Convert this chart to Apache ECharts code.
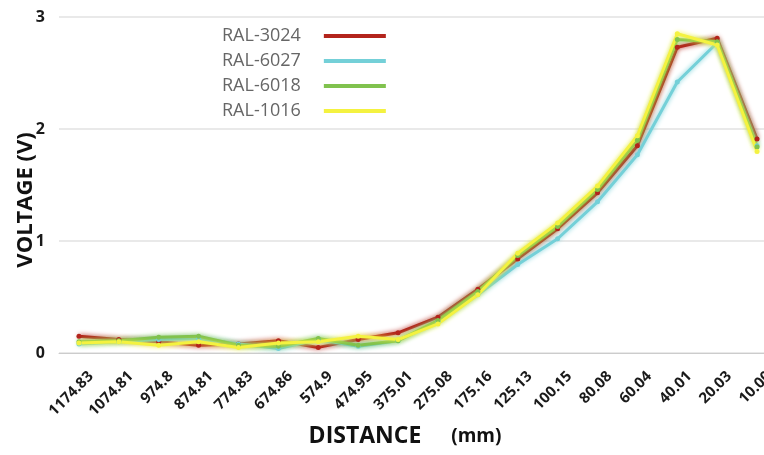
<!DOCTYPE html>
<html>
<head>
<meta charset="utf-8">
<script src="https://cdn.jsdelivr.net/npm/echarts@6/dist/echarts.min.js"></script>
<style>html,body{margin:0;padding:0;background:#fff}#c{width:764px;height:455px}</style>
</head>
<body>
<div id="c"></div>
<script>
const categories = ['1174.83','1074.81','974.8','874.81','774.83','674.86','574.9','474.95','375.01','275.08','175.16','125.13','100.15','80.08','60.04','40.01','20.03','10.00'];
const ral3024 = [0.15,0.12,0.10,0.07,0.08,0.11,0.05,0.12,0.18,0.32,0.57,0.84,1.11,1.43,1.85,2.73,2.81,1.91];
const ral6027 = [0.08,0.10,0.12,0.13,0.08,0.04,0.12,0.06,0.11,0.28,0.52,0.79,1.02,1.35,1.77,2.42,2.77,1.85];
const ral6018 = [0.10,0.11,0.14,0.15,0.07,0.06,0.13,0.07,0.11,0.29,0.55,0.87,1.13,1.46,1.90,2.80,2.78,1.84];
const ral1016 = [0.09,0.10,0.07,0.10,0.05,0.09,0.10,0.15,0.12,0.26,0.52,0.89,1.16,1.49,1.94,2.85,2.75,1.80];
const seriesNames = ['RAL-3024','RAL-6027','RAL-6018','RAL-1016'];
const yTicks = [0,1,2,3];

const colors = ['#b3241c','#74d0d8','#80c24e','#f4f240'];
const dataSets = [ral3024, ral6027, ral6018, ral1016];

const chart = echarts.init(document.getElementById('c'));
chart.setOption({
  animation: false,
  color: colors,
  grid: { left: 59, right: -13, top: 17, bottom: 102, containLabel: false, outerBoundsMode: 'none' },
  legend: {
    orient: 'vertical', left: 217, top: 22, align: 'right',
    icon: 'rect', itemWidth: 62, itemHeight: 4, itemGap: 7,
    textStyle: { color: '#666', fontFamily: 'Open Sans', fontSize: 18, padding: [0, 18, 0, 0] },
    data: seriesNames
  },
  xAxis: {
    type: 'category', data: categories, boundaryGap: true,
    axisLine: { lineStyle: { color: '#cccccc', width: 1 } },
    axisTick: { show: false },
    axisLabel: { rotate: 45, margin: 9, color: '#1a1a1a', fontFamily: 'Open Sans', fontWeight: 'bold', fontSize: 15, interval: 0, lineHeight: 34,
      formatter: v => ' \n' + v },
    name: '{a|DISTANCE}     {b|(mm)}', nameLocation: 'middle', nameGap: 72, nameMoveOverlap: false,
    nameTextStyle: { color: '#111', fontFamily: 'Open Sans', fontWeight: 'bold', fontSize: 23, padding: [0, 26, 0, 0],
      rich: { a: { fontFamily: 'Open Sans', fontWeight: 'bold', fontSize: 23, color: '#111' }, b: { fontFamily: 'Open Sans', fontWeight: 'bold', fontSize: 19, color: '#111' } } }
  },
  yAxis: {
    type: 'value', min: yTicks[0], max: yTicks[yTicks.length-1], interval: 1,
    axisLine: { show: false }, axisTick: { show: false },
    splitLine: { lineStyle: { color: '#e2e2e2', width: 1.5 } },
    axisLabel: { margin: 14, color: '#1a1a1a', fontFamily: 'Open Sans', fontWeight: 'bold', fontSize: 16 },
    name: 'VOLTAGE (V)', nameLocation: 'middle', nameGap: 22, nameMoveOverlap: false,
    nameTextStyle: { color: '#111', fontFamily: 'Open Sans', fontWeight: 'bold', fontSize: 22, padding: [0, 30, 0, 0] }
  },
  series: dataSets.map((d, i) => ({
    name: seriesNames[i], type: 'line', data: d,
    symbol: 'circle', symbolSize: 5,
    lineStyle: { width: 3, color: colors[i], shadowColor: colors[i], shadowBlur: 5 },
    itemStyle: { color: colors[i] }
  }))
});
</script>
</body>
</html>
